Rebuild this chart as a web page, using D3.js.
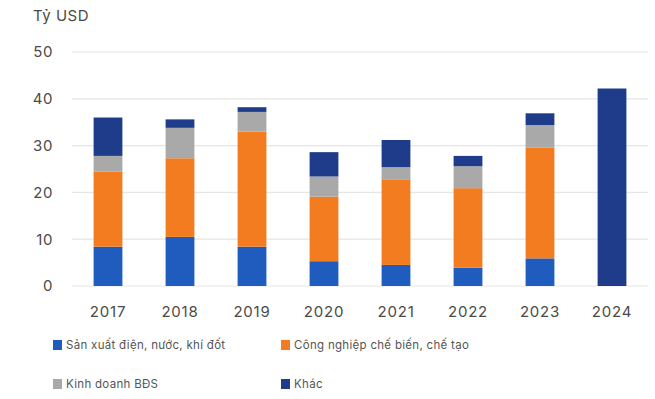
<!DOCTYPE html>
<html>
<head>
<meta charset="utf-8">
<script src="https://cdn.jsdelivr.net/npm/d3@7"></script>
<style>
  html, body { margin: 0; padding: 0; background: #fff; }
  svg { display: block; font-family: Inter, "Noto Sans", sans-serif; }
</style>
</head>
<body>
<svg id="chart" width="655" height="399"></svg>
<script>
// FDI by sector, billion USD
const years = ["2017", "2018", "2019", "2020", "2021", "2022", "2023", "2024"];
const dienNuocKhi = [8.4, 10.5, 8.4, 5.3, 4.5, 3.9, 5.9, 0];
const congNghiep  = [16.0, 16.8, 24.6, 13.8, 18.3, 17.0, 23.7, 0];
const batDongSan  = [3.4, 6.5, 4.2, 4.3, 2.6, 4.7, 4.8, 0];
const khac        = [8.2, 1.8, 1.0, 5.2, 5.8, 2.2, 2.5, 42.2];
const yTicks = [0, 10, 20, 30, 40, 50];

const seriesNames = [
  "Sản xuất điện, nước, khí đốt",
  "Công nghiệp chế biến, chế tạo",
  "Kinh doanh BĐS",
  "Khác"
];
const seriesData = [dienNuocKhi, congNghiep, batDongSan, khac];
const colors = ["#1f5cbd", "#f37b20", "#a9a9a9", "#1e3c8a"];

const rows = years.map((y, i) => {
  const r = { year: y };
  seriesNames.forEach((n, k) => { r[n] = seriesData[k][i]; });
  return r;
});

const svg = d3.select("#chart");

const x = d3.scaleBand().domain(years).range([72, 648]).paddingInner(0.6).paddingOuter(0.3);
const y = d3.scaleLinear().domain([0, 50]).range([286, 52]);
const color = d3.scaleOrdinal().domain(seriesNames).range(colors);

// gridlines
svg.append("g")
  .selectAll("line")
  .data(yTicks)
  .join("line")
  .attr("x1", 72).attr("x2", 648)
  .attr("y1", d => y(d)).attr("y2", d => y(d))
  .attr("stroke", "#e5e5e5").attr("stroke-width", 1.2);

// y axis labels
const yAxis = svg.append("g")
  .attr("transform", "translate(53,0)")
  .call(d3.axisLeft(y).tickValues(yTicks).tickSize(0).tickPadding(0));
yAxis.select(".domain").remove();
yAxis.selectAll("text").attr("font-size", 15).attr("letter-spacing", 0.6)
  .attr("fill", "#4a4a4a").attr("font-family", "Inter, sans-serif");

// x axis labels
const xAxis = svg.append("g")
  .attr("transform", "translate(0,300)")
  .call(d3.axisBottom(x).tickSize(0).tickPadding(6));
xAxis.select(".domain").remove();
xAxis.selectAll("text").attr("font-size", 15).attr("letter-spacing", 0.8)
  .attr("fill", "#4a4a4a").attr("font-family", "Inter, sans-serif");

// unit label
svg.append("text")
  .attr("x", 33).attr("y", 21)
  .attr("font-size", 15).attr("letter-spacing", 0.5).attr("fill", "#4a4a4a")
  .text("Tỷ USD");

// stacked bars
const stacked = d3.stack().keys(seriesNames)(rows);
svg.append("g")
  .selectAll("g")
  .data(stacked)
  .join("g")
  .attr("fill", d => color(d.key))
  .selectAll("rect")
  .data(d => d)
  .join("rect")
  .attr("x", d => x(d.data.year))
  .attr("width", x.bandwidth())
  .attr("y", d => y(d[1]))
  .attr("height", d => y(d[0]) - y(d[1]));

// legend
const legendPos = [[53, 345], [281, 345], [53, 384], [281, 384]];
const legend = svg.append("g")
  .selectAll("g")
  .data(seriesNames)
  .join("g")
  .attr("transform", (d, i) => `translate(${legendPos[i][0]},${legendPos[i][1]})`);
legend.append("rect")
  .attr("x", 0).attr("y", -5).attr("width", 9).attr("height", 10)
  .attr("fill", d => color(d));
legend.append("text")
  .attr("x", 13).attr("y", 4)
  .attr("font-size", 11.5).attr("letter-spacing", 0.3).attr("fill", "#555")
  .text(d => d);
</script>
</body>
</html>
